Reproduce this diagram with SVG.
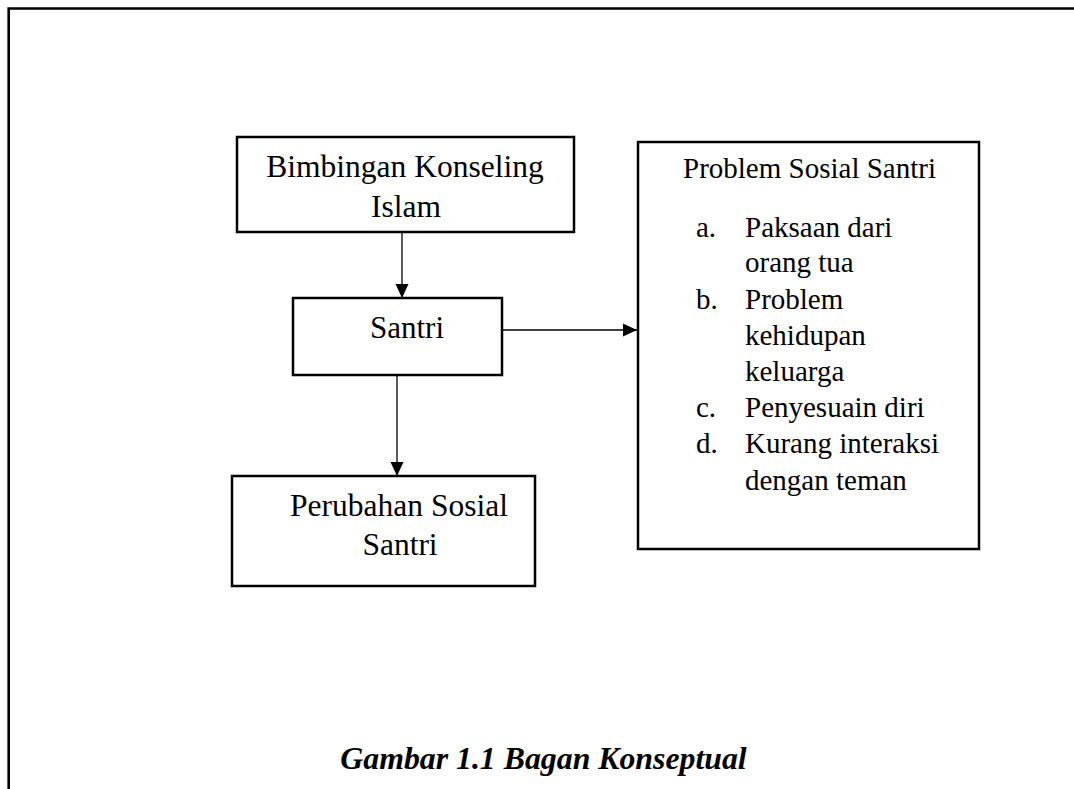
<svg xmlns="http://www.w3.org/2000/svg" width="1074" height="789" viewBox="0 0 1074 789">
<style>
.box{fill:#fff;stroke:#000;stroke-width:2.5}
.t{font-family:"Liberation Serif","Times New Roman",serif;fill:#000}
.conn{stroke:#000;stroke-width:1.3;fill:none}
.frame{stroke:#000;stroke-width:2.6;fill:none}
</style>
<defs>
<marker id="ah" markerUnits="userSpaceOnUse" markerWidth="14" markerHeight="14" viewBox="0 0 14 14" refX="14" refY="7" orient="auto">
<path d="M0,0.5 L14,7 L0,13.5 Z" fill="#000"/>
</marker>
</defs>
<rect width="1074" height="789" fill="#fff"/>
<path class="frame" d="M8.7,789 L8.7,8.5 L1074,8.5"/>
<g id="node-bimbingan">
<rect class="box" x="237" y="137" width="337" height="95"/>
<text class="t" font-size="31.5" text-anchor="middle" x="405" y="177">Bimbingan Konseling</text>
<text class="t" font-size="31.5" text-anchor="middle" x="406" y="217">Islam</text>
</g>
<g id="node-santri">
<rect class="box" x="293" y="298" width="209" height="77"/>
<text class="t" font-size="31" text-anchor="middle" x="407" y="338">Santri</text>
</g>
<g id="node-perubahan">
<rect class="box" x="232" y="476" width="303" height="110"/>
<text class="t" font-size="31.5" text-anchor="middle" x="399" y="516">Perubahan Sosial</text>
<text class="t" font-size="31.5" text-anchor="middle" x="400" y="555">Santri</text>
</g>
<g id="node-problem">
<rect class="box" x="638" y="142" width="341" height="407"/>
<text class="t" font-size="29" text-anchor="middle" x="809.5" y="178">Problem Sosial Santri</text>
<g class="t" font-size="29">
<text x="696" y="237">a.</text><text x="745" y="237">Paksaan dari</text>
<text x="745" y="272">orang tua</text>
<text x="696" y="309">b.</text><text x="745" y="309">Problem</text>
<text x="745" y="345">kehidupan</text>
<text x="745" y="381">keluarga</text>
<text x="696" y="417">c.</text><text x="745" y="417">Penyesuain diri</text>
<text x="696" y="453">d.</text><text x="745" y="453">Kurang interaksi</text>
<text x="745" y="490">dengan teman</text>
</g>
</g>
<g id="connectors">
<line class="conn" x1="402" y1="232" x2="402" y2="298" marker-end="url(#ah)"/>
<line class="conn" x1="502" y1="330" x2="637" y2="330" marker-end="url(#ah)"/>
<line class="conn" x1="397" y1="375" x2="397" y2="476" marker-end="url(#ah)"/>
</g>
<text class="t" font-size="31.8" font-weight="bold" font-style="italic" text-anchor="middle" x="543.5" y="769">Gambar 1.1 Bagan Konseptual</text>
</svg>
